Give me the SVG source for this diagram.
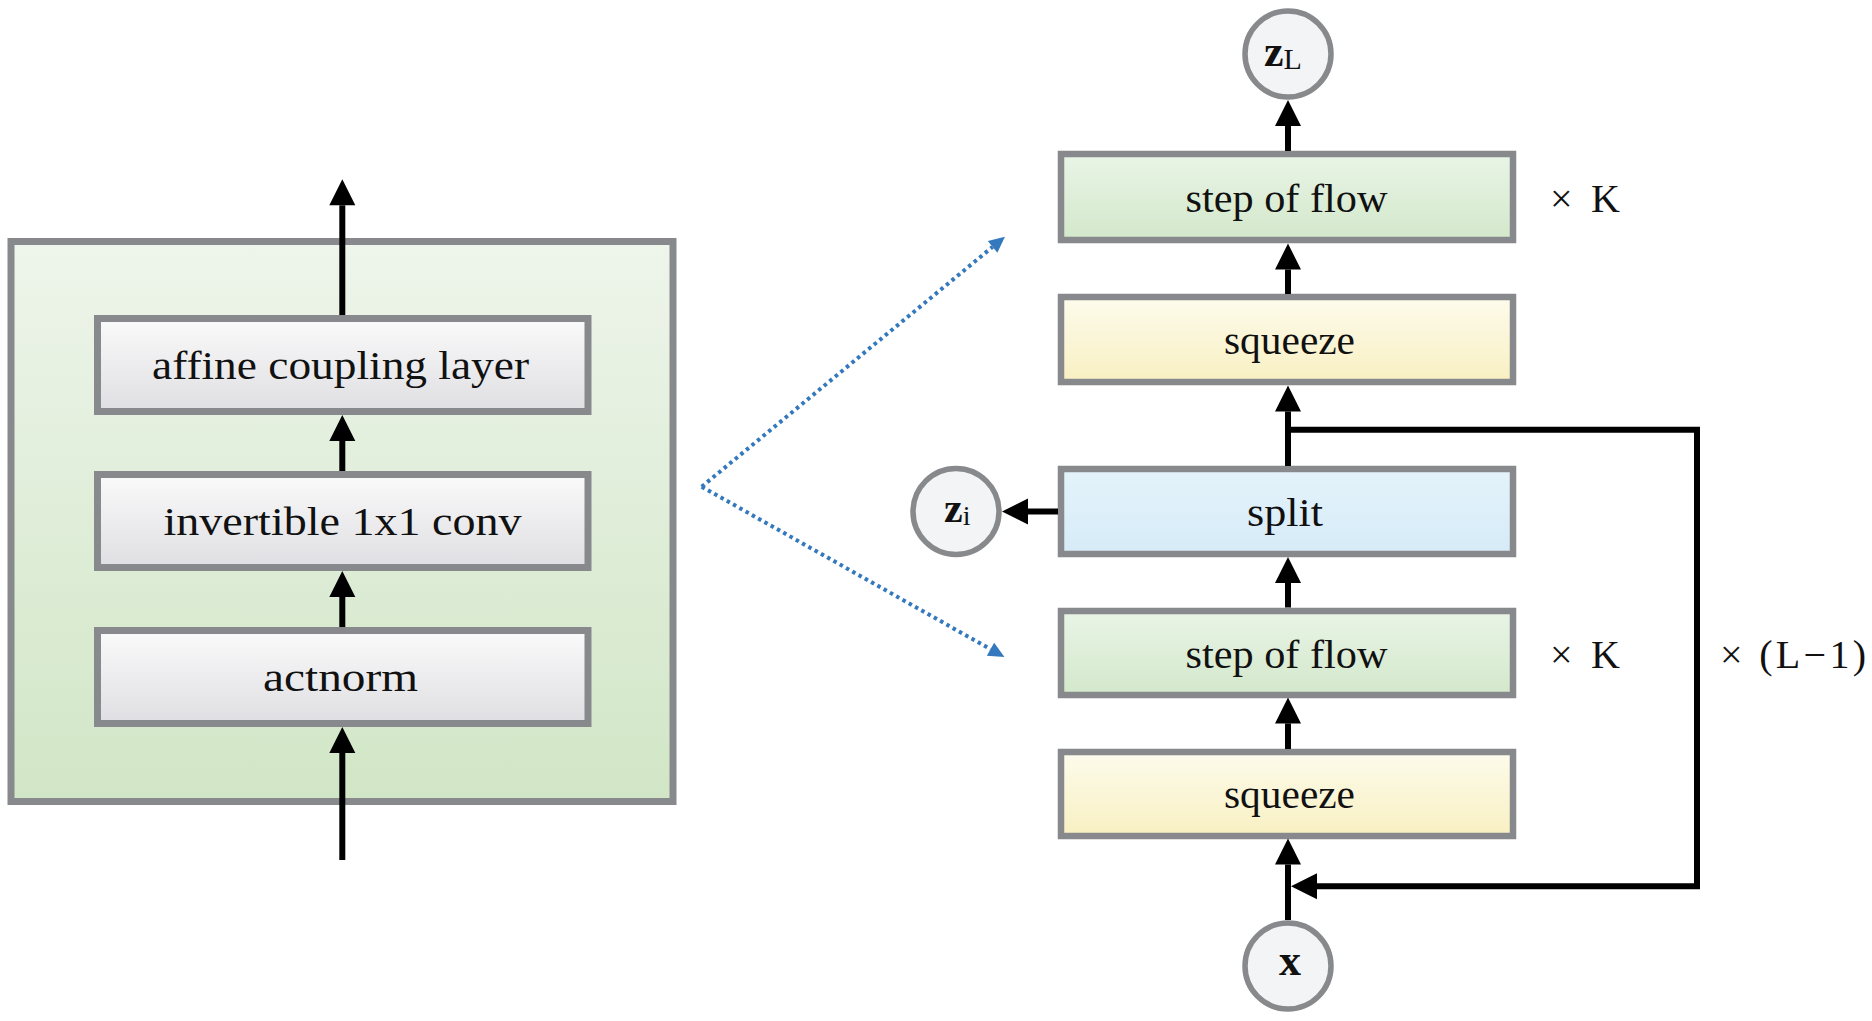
<svg xmlns="http://www.w3.org/2000/svg" width="1872" height="1021" viewBox="0 0 1872 1021">
<style>
  .box { stroke: #88898c; stroke-width: 7; }
  .rbox { stroke: #88898c; stroke-width: 6.5; }
  .circ { fill: #f3f4f6; stroke: #88898c; stroke-width: 5.5; }
  .lbl { font-family: "Liberation Serif", "DejaVu Serif", serif; fill: #111; text-anchor: middle; }
  .big { font-size: 41px; }
  .med { font-size: 39px; }
  .math { font-family: "Liberation Serif", "DejaVu Serif", serif; fill: #111; }
  .ar { stroke: #000; stroke-width: 6; fill: none; marker-end: url(#ah); }
  .dot { stroke: #3479bd; stroke-width: 4; stroke-dasharray: 3.5 3.7; fill: none; marker-end: url(#bh); }
</style>
<defs>
  <linearGradient id="gOuter" x1="0" y1="0" x2="0" y2="1">
    <stop offset="0" stop-color="#eef5eb"/>
    <stop offset="1" stop-color="#d1e6c6"/>
  </linearGradient>
  <linearGradient id="gGray" x1="0" y1="0" x2="0" y2="1">
    <stop offset="0" stop-color="#fafafa"/>
    <stop offset="1" stop-color="#dfdfe3"/>
  </linearGradient>
  <linearGradient id="gGreen" x1="0" y1="0" x2="0" y2="1">
    <stop offset="0" stop-color="#e9f4e6"/>
    <stop offset="1" stop-color="#d3e8cb"/>
  </linearGradient>
  <linearGradient id="gYellow" x1="0" y1="0" x2="0" y2="1">
    <stop offset="0" stop-color="#fdfbec"/>
    <stop offset="1" stop-color="#f8f0c2"/>
  </linearGradient>
  <linearGradient id="gBlue" x1="0" y1="0" x2="0" y2="1">
    <stop offset="0" stop-color="#e4f3fb"/>
    <stop offset="1" stop-color="#d6ebf7"/>
  </linearGradient>
  <marker id="ah" markerUnits="userSpaceOnUse" markerWidth="26" markerHeight="26" refX="0" refY="13" orient="auto" overflow="visible">
    <path d="M0,0 L26,13 L0,26 Z" fill="#000"/>
  </marker>
  <marker id="bh" markerUnits="userSpaceOnUse" markerWidth="16" markerHeight="16" refX="0" refY="7.5" orient="auto" overflow="visible">
    <path d="M0,0 L16,7.5 L0,15 Z" fill="#3479bd"/>
  </marker>
</defs>

<!-- Left: step of flow detail -->
<g id="step-of-flow-detail">
  <rect class="box" x="11" y="241.5" width="662" height="560" fill="url(#gOuter)"/>
</g>
<g id="affine-coupling-layer">
  <rect class="box" x="97.5" y="318.5" width="490.5" height="93" fill="url(#gGray)"/>
  <text class="lbl big" x="340.5" y="379" textLength="377" lengthAdjust="spacingAndGlyphs">affine coupling layer</text>
</g>
<g id="invertible-conv">
  <rect class="box" x="97.5" y="474.5" width="490.5" height="93" fill="url(#gGray)"/>
  <text class="lbl big" x="342.5" y="535" textLength="358" lengthAdjust="spacingAndGlyphs">invertible 1x1 conv</text>
</g>
<g id="actnorm">
  <rect class="box" x="97.5" y="630.5" width="490.5" height="93" fill="url(#gGray)"/>
  <text class="lbl big" x="340.5" y="691" textLength="155" lengthAdjust="spacingAndGlyphs">actnorm</text>
</g>

<!-- Right: multi-scale architecture -->
<g id="zL">
  <circle class="circ" cx="1288" cy="54" r="43"/>
  <text class="math" x="1264" y="66"><tspan font-weight="bold" font-size="44">z</tspan><tspan font-size="30" dy="3">L</tspan></text>
</g>
<g id="step-of-flow-top">
  <rect class="rbox" x="1061" y="154" width="452" height="86" fill="url(#gGreen)"/>
  <text class="lbl med" x="1286.5" y="211.5" textLength="202" lengthAdjust="spacingAndGlyphs">step of flow</text>
</g>
<g id="squeeze-top">
  <rect class="rbox" x="1061" y="297" width="452" height="85" fill="url(#gYellow)"/>
  <text class="lbl med" x="1289.5" y="353.5" textLength="131" lengthAdjust="spacingAndGlyphs">squeeze</text>
</g>
<g id="split">
  <rect class="rbox" x="1061" y="469" width="452" height="85" fill="url(#gBlue)"/>
  <text class="lbl med" x="1285" y="525.5" textLength="76" lengthAdjust="spacingAndGlyphs">split</text>
</g>
<g id="zi">
  <circle class="circ" cx="956" cy="511.5" r="43"/>
  <text class="math" x="944" y="522"><tspan font-weight="bold" font-size="42">z</tspan><tspan font-size="28" dy="3">i</tspan></text>
</g>
<g id="step-of-flow-bottom">
  <rect class="rbox" x="1061" y="611" width="452" height="84" fill="url(#gGreen)"/>
  <text class="lbl med" x="1286.5" y="667.5" textLength="202" lengthAdjust="spacingAndGlyphs">step of flow</text>
</g>
<g id="squeeze-bottom">
  <rect class="rbox" x="1061" y="752" width="452" height="84" fill="url(#gYellow)"/>
  <text class="lbl med" x="1289.5" y="807.5" textLength="131" lengthAdjust="spacingAndGlyphs">squeeze</text>
</g>
<g id="x">
  <circle class="circ" cx="1288" cy="966" r="43"/>
  <text class="math" x="1290" y="975" text-anchor="middle" font-weight="bold" font-size="44">x</text>
</g>

<g id="labels">
  <text class="math" x="1550" y="211.5" font-size="40" textLength="70">× K</text>
  <text class="math" x="1550" y="667.5" font-size="40" textLength="70">× K</text>
  <text class="math" x="1720" y="667.5" font-size="40" textLength="146">× (L−1)</text>
</g>

<g id="connectors">
  <!-- left -->
  <path class="ar" d="M342.3,860 L342.3,753"/>
  <path class="ar" d="M342.3,627 L342.3,597"/>
  <path class="ar" d="M342.3,471 L342.3,441"/>
  <path class="ar" d="M342.3,315 L342.3,205.3"/>
  <!-- right -->
  <path class="ar" d="M1288,920 L1288,864.5"/>
  <path class="ar" d="M1288,749 L1288,723.5"/>
  <path class="ar" d="M1288,607.5 L1288,583"/>
  <path class="ar" d="M1288,466 L1288,411.5"/>
  <path class="ar" d="M1288,294 L1288,269.5"/>
  <path class="ar" d="M1288,151 L1288,126"/>
  <path class="ar" d="M1058,511.5 L1028,511.5"/>
  <path class="ar" d="M1285,429.7 L1697,429.7 L1697,886.3 L1317,886.3"/>
  <!-- dotted zoom lines -->
  <path class="dot" d="M701.7,486.7 L992.6,246.9"/>
  <path class="dot" d="M701.7,486.7 L990.5,649.2"/>
</g>
</svg>
